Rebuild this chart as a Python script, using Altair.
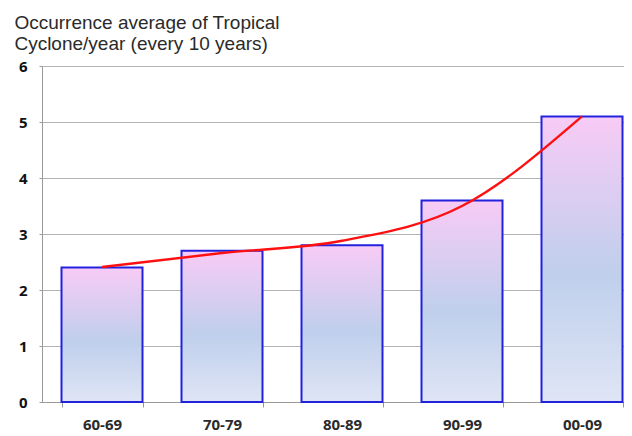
import altair as alt
import pandas as pd

decades = ["60-69", "70-79", "80-89", "90-99", "00-09"]
occurrence = [2.4, 2.7, 2.8, 3.6, 5.1]
trend = [2.41, 2.66, 2.88, 3.5, 5.1]

df = pd.DataFrame({"decade": decades, "occ": occurrence, "trend": trend})

gradient = alt.LinearGradient(
    gradient="linear",
    stops=[
        alt.GradientStop(color="#f8cbf6", offset=0),
        alt.GradientStop(color="#bfcfec", offset=0.55),
        alt.GradientStop(color="#dfe5f5", offset=1),
    ],
    x1=0, x2=0, y1=0, y2=1,
)

x = alt.X(
    "decade:N",
    sort=decades,
    title=None,
    scale=alt.Scale(paddingInner=0.325, paddingOuter=0.1625, range=[0, 600]),
    axis=alt.Axis(
        labelAngle=0,
        labelFont="Open Sans",
        labelFontWeight="bold",
        labelFontSize=15,
        labelColor="#2a2a2a",
        labelPadding=10,
        tickBand="extent",
        tickColor="#999999",
        tickSize=5,
        domainColor="#999999",
        grid=False,
    ),
)

bars = alt.Chart(df).mark_bar(
    fill=gradient, stroke="#2222dd", strokeWidth=2
).encode(
    x=x,
    y=alt.Y(
        "occ:Q",
        title=None,
        scale=alt.Scale(domain=[0, 6], nice=False),
        axis=alt.Axis(
            values=[0, 1, 2, 3, 4, 5, 6],
            format="d",
            labelFont="Open Sans",
            labelFontWeight="bold",
            labelFontSize=15,
            labelColor="#111111",
            labelPadding=12,
            tickColor="#999999",
            tickSize=3,
            domainColor="#999999",
            gridColor="#b4b4b4",
        ),
    ),
)

line = alt.Chart(df).mark_line(
    color="#ff1010", strokeWidth=2.4, interpolate="monotone"
).encode(
    x=alt.X("decade:N", sort=decades),
    y=alt.Y("trend:Q"),
)

chart = alt.layer(bars, line).properties(
    width=582,
    height=336,
    autosize=alt.AutoSizeParams(type="none"),
    padding={"left": 34, "top": 58, "right": 0, "bottom": 34},
    title=alt.TitleParams(
        text=["Occurrence average of Tropical", "Cyclone/year (every 10 years)"],
        font="Liberation Sans",
        fontSize=19,
        fontWeight="normal",
        color="#2a2a2a",
        anchor="start",
        frame="bounds",
        lineHeight=21,
        offset=5,
        dx=-4,
    ),
).configure_view(stroke=None)

chart.save("out.html", embed_options={"renderer": "svg", "actions": False})
